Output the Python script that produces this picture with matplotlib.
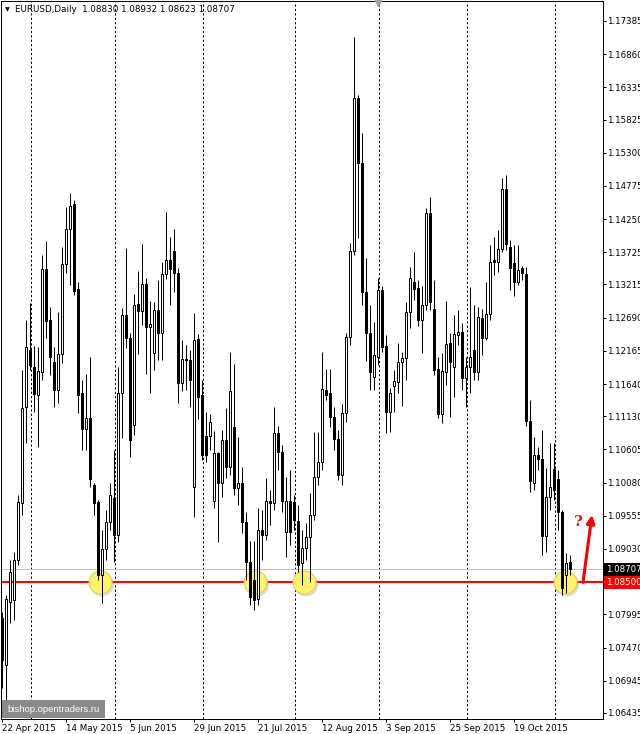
import matplotlib
matplotlib.use("Agg")
import matplotlib.pyplot as plt
import matplotlib.transforms as mtransforms
from matplotlib.patches import Rectangle
import pandas as pd

# EURUSD daily candles, 22 Apr 2015 .. 5 Nov 2015
first_day = "2015-04-22"
opens = [1.0794, 1.0719, 1.0819, 1.0822, 1.0886, 1.0976, 1.1128, 1.1218, 1.1191, 1.1146,
         1.1183, 1.1346, 1.1265, 1.1199, 1.1155, 1.1212, 1.1354, 1.1409, 1.1449, 1.1314,
         1.1149, 1.1093, 1.1110, 1.1004, 1.0977, 1.0862, 1.0903, 1.0946, 1.0983, 1.0925,
         1.1150, 1.1273, 1.1237, 1.1099, 1.1291, 1.1280, 1.1323, 1.1254, 1.1213, 1.1281,
         1.1245, 1.1338, 1.1360, 1.1375, 1.1340, 1.1166, 1.1204, 1.1202, 1.1001, 1.1235,
         1.1146, 1.1082, 1.1082, 1.0979, 1.1055, 1.1007, 1.1075, 1.1032, 1.1096, 1.0999,
         1.1007, 1.0946, 1.0882, 1.0854, 1.0824, 1.0933, 1.0925, 1.0979, 1.0976, 1.1086,
         1.1057, 1.0930, 1.0979, 1.0977, 1.0947, 1.0881, 1.0905, 1.0922, 1.0957, 1.1017,
         1.1041, 1.1155, 1.1149, 1.1112, 1.1077, 1.1020, 1.1118, 1.1239, 1.1375, 1.1617,
         1.1514, 1.1310, 1.1245, 1.1175, 1.1207, 1.1313, 1.1224, 1.1120, 1.1161, 1.1167,
         1.1199, 1.1205, 1.1278, 1.1326, 1.1316, 1.1265, 1.1289, 1.1435, 1.1283, 1.1188,
         1.1117, 1.1183, 1.1229, 1.1191, 1.1242, 1.1246, 1.1174, 1.1191, 1.1218, 1.1183,
         1.1269, 1.1237, 1.1275, 1.1360, 1.1357, 1.1378, 1.1473, 1.1381, 1.1356, 1.1326,
         1.1348, 1.1338, 1.1105, 1.1007, 1.1052, 1.1045, 1.0924, 1.0985, 1.1030, 1.1014,
         1.0962, 1.0862, 1.08830]
highs = [1.0803, 1.0830, 1.0886, 1.0898, 1.0988, 1.1186, 1.1265, 1.1292, 1.1224, 1.1223,
         1.1368, 1.1390, 1.1286, 1.1223, 1.1278, 1.1381, 1.1444, 1.1467, 1.1455, 1.1325,
         1.1171, 1.1180, 1.1207, 1.1007, 1.0981, 1.0933, 1.0965, 1.1007, 1.1060, 1.1191,
         1.1284, 1.1379, 1.1245, 1.1307, 1.1343, 1.1386, 1.1331, 1.1295, 1.1294, 1.1328,
         1.1357, 1.1436, 1.1397, 1.1409, 1.1348, 1.1234, 1.1226, 1.1218, 1.1276, 1.1243,
         1.1171, 1.1120, 1.1117, 1.1090, 1.1057, 1.1091, 1.1126, 1.1215, 1.1196, 1.1080,
         1.1032, 1.0962, 1.0915, 1.0915, 1.0968, 1.0965, 1.1015, 1.0996, 1.1128, 1.1097,
         1.1068, 1.1017, 1.1028, 1.0988, 1.0973, 1.0933, 1.0944, 1.0991, 1.1088, 1.1088,
         1.1215, 1.1188, 1.1188, 1.1128, 1.1091, 1.1132, 1.1245, 1.1387, 1.1713, 1.1621,
         1.1561, 1.1364, 1.1289, 1.1262, 1.1332, 1.1319, 1.1242, 1.1158, 1.1186, 1.1229,
         1.1215, 1.1294, 1.1349, 1.1373, 1.1328, 1.1319, 1.1443, 1.1460, 1.1328, 1.1207,
         1.1213, 1.1295, 1.1245, 1.1273, 1.1281, 1.1261, 1.1207, 1.1318, 1.1289, 1.1286,
         1.1283, 1.1325, 1.1384, 1.1397, 1.1408, 1.1490, 1.1495, 1.1392, 1.1384, 1.1384,
         1.1351, 1.1349, 1.1139, 1.1080, 1.1064, 1.1091, 1.1031, 1.1071, 1.1071, 1.1028,
         1.0965, 1.0897, 1.08932]
lows = [1.0683, 1.0664, 1.0786, 1.0791, 1.0878, 1.0957, 1.1071, 1.1186, 1.1120, 1.1064,
        1.1171, 1.1237, 1.1179, 1.1128, 1.1134, 1.1198, 1.1340, 1.1321, 1.1305, 1.1118,
        1.1060, 1.1060, 1.1001, 1.0957, 1.0854, 1.0818, 1.0886, 1.0933, 1.0882, 1.0914,
        1.1079, 1.1221, 1.1049, 1.1083, 1.1212, 1.1257, 1.1180, 1.1150, 1.1186, 1.1202,
        1.1202, 1.1330, 1.1289, 1.1310, 1.1134, 1.1153, 1.1155, 1.1128, 1.0954, 1.1109,
        1.1044, 1.1041, 1.1060, 1.0968, 1.0914, 1.0985, 1.1015, 1.1020, 1.0988, 1.0973,
        1.0928, 1.0854, 1.0814, 1.0806, 1.0814, 1.0886, 1.0917, 1.0941, 1.0965, 1.1028,
        1.0962, 1.0890, 1.0909, 1.0933, 1.0867, 1.0846, 1.0886, 1.0851, 1.0949, 1.1004,
        1.1028, 1.1139, 1.1096, 1.1060, 1.1012, 1.1004, 1.1104, 1.1226, 1.1368, 1.1395,
        1.1289, 1.1201, 1.1155, 1.1155, 1.1194, 1.1215, 1.1086, 1.1088, 1.1120, 1.1150,
        1.1129, 1.1171, 1.1253, 1.1297, 1.1256, 1.1213, 1.1281, 1.1281, 1.1179, 1.1110,
        1.1102, 1.1163, 1.1112, 1.1144, 1.1226, 1.1155, 1.1128, 1.1150, 1.1171, 1.1171,
        1.1210, 1.1234, 1.1265, 1.1337, 1.1342, 1.1373, 1.1376, 1.1313, 1.1303, 1.1321,
        1.1329, 1.1098, 1.0993, 1.0996, 1.1028, 1.0893, 1.0898, 1.0965, 1.0981, 1.0933,
        1.0830, 1.0833, 1.08623]
closes = [1.0727, 1.0824, 1.0867, 1.0886, 1.0977, 1.1126, 1.1223, 1.1194, 1.1148, 1.1184,
          1.1346, 1.1264, 1.1207, 1.1155, 1.1212, 1.1354, 1.1409, 1.1446, 1.1311, 1.1147,
          1.1093, 1.1110, 1.1014, 1.0976, 1.0862, 1.0903, 1.0946, 1.0988, 1.0925, 1.1150,
          1.1273, 1.1237, 1.1075, 1.1289, 1.1280, 1.1323, 1.1254, 1.1259, 1.1281, 1.1245,
          1.1338, 1.1360, 1.1346, 1.1339, 1.1166, 1.1204, 1.1202, 1.1170, 1.1234, 1.1144,
          1.1051, 1.1052, 1.1104, 1.1055, 1.1007, 1.1075, 1.1032, 1.1153, 1.0999, 1.1007,
          1.0946, 1.0882, 1.0827, 1.0822, 1.0933, 1.0925, 1.0979, 1.0976, 1.1086, 1.1057,
          1.0979, 1.0979, 1.0930, 1.0949, 1.0878, 1.0905, 1.0922, 1.0957, 1.1017, 1.1041,
          1.1156, 1.1147, 1.1112, 1.1077, 1.1020, 1.1118, 1.1239, 1.1375, 1.1617, 1.1514,
          1.1310, 1.1245, 1.1183, 1.1210, 1.1313, 1.1223, 1.1120, 1.1149, 1.1169, 1.1199,
          1.1205, 1.1278, 1.1332, 1.1314, 1.1265, 1.1289, 1.1435, 1.1294, 1.1186, 1.1117,
          1.1184, 1.1227, 1.1199, 1.1243, 1.1246, 1.1174, 1.1191, 1.1207, 1.1183, 1.1270,
          1.1237, 1.1275, 1.1357, 1.1357, 1.1378, 1.1473, 1.1386, 1.1348, 1.1326, 1.1345,
          1.1340, 1.1105, 1.1010, 1.1052, 1.1045, 1.0924, 1.0985, 1.1001, 1.0996, 1.0962,
          1.0841, 1.0881, 1.08707]

price_ticks = [1.17385, 1.16860, 1.16335, 1.15825, 1.15300, 1.14775, 1.14250, 1.13725,
               1.13215, 1.12690, 1.12165, 1.11640, 1.11130, 1.10605, 1.10080, 1.09555,
               1.09030, 1.07995, 1.07470, 1.06945, 1.06435]
support = 1.08500
circle_bars = [24.5, 63.25, 75.5, 140.75]
label_every = 16

n = len(closes)
dates = pd.bdate_range(first_day, periods=n)
xs = list(range(n))

fig = plt.figure(figsize=(6.4, 7.34), dpi=100)
ax = fig.add_axes([1 / 640, 15 / 734, 602 / 640, 718 / 734])
px = 0.72  # one pixel in points

# month separators
month_starts = [i for i in range(1, n) if dates[i].month != dates[i - 1].month]
for m in month_starts:
    ax.axvline(m + 0.15, color="black", lw=px, linestyle=(0, (2.2, 2.2)), zorder=1)

# levels
ax.axhline(closes[-1], color="#c0c0c0", lw=px, zorder=1)
ax.axhline(support, color="#ff0000", lw=1.5, zorder=2)

# highlight circles
shadow = mtransforms.offset_copy(ax.transData, fig=fig, x=2, y=-2, units="dots")
ax.scatter(circle_bars, [support] * len(circle_bars), s=300, color="#a8a8a8",
           alpha=0.4, edgecolors="none", transform=shadow, zorder=2.3)
ax.scatter(circle_bars, [support] * len(circle_bars), s=270, color="#fff36e",
           edgecolors="#e2d24e", linewidths=0.8, zorder=2.5)

# candles
ax.vlines(xs, lows, highs, color="black", lw=px, zorder=3)
heights = [abs(c - o) for o, c in zip(opens, closes)]
bottoms = [min(o, c) for o, c in zip(opens, closes)]
fills = ["white" if c >= o else "black" for o, c in zip(opens, closes)]
ax.bar(xs, heights, bottom=bottoms, width=0.5, color=fills, edgecolor="black",
       linewidth=px, zorder=4)

ax.set_xlim(-0.25, 150.25)
ax.set_ylim(1.0634, 1.1770)

for s in ax.spines.values():
    s.set_color("black")
    s.set_linewidth(px)

ax.yaxis.tick_right()
ax.set_yticks(price_ticks)
ax.set_yticklabels([f"{v:.5f}" for v in price_ticks])
label_idx = list(range(0, n, label_every))
ax.set_xticks(label_idx)
ax.set_xticklabels([f"{dates[i].day} {dates[i].strftime('%b %Y')}" for i in label_idx],
                   ha="left")
ax.tick_params(axis="y", direction="out", length=2.2, width=px, labelsize=6.2, pad=0.8)
ax.tick_params(axis="x", direction="out", length=2.5, width=px, labelsize=6.3, pad=1)

# price boxes on the scale
right = mtransforms.blended_transform_factory(ax.transAxes, ax.transData)
ax.text(1 + 3 / 602, closes[-1], f"{closes[-1]:.5f}", transform=right, ha="left",
        va="center", color="white", fontsize=6.2, clip_on=False,
        bbox=dict(boxstyle="square,pad=0.25", fc="black", ec="none"))
ax.text(1 + 3 / 602, support, f"{support:.5f}", transform=right, ha="left",
        va="center", color="white", fontsize=6.2, clip_on=False,
        bbox=dict(boxstyle="square,pad=0.25", fc="#ff0000", ec="none"))

# header
ax.text(4 / 602, 1 - 9 / 718, "\u25bc", transform=ax.transAxes, fontsize=4.5,
        va="center", ha="left")
ax.text(14 / 602, 1 - 9 / 718,
        f"EURUSD,Daily  {opens[-1]:.5f} {highs[-1]:.5f} {lows[-1]:.5f} {closes[-1]:.5f}",
        transform=ax.transAxes, fontsize=6.3, va="center", ha="left")

# chart shift marker
top = mtransforms.blended_transform_factory(ax.transData, ax.transAxes)
ax.plot([94], [1 - 2 / 718], marker="v", ms=4, color="#a0a0a0", transform=top,
        clip_on=False, zorder=6)

# arrow and question mark
ax.annotate("", xy=(147.5, 1.0957), xytext=(145.25, support),
            arrowprops=dict(arrowstyle="-|>", color="#ff0000", lw=2.2,
                            mutation_scale=12, shrinkA=0, shrinkB=0), zorder=5)
ax.text(144, 1.0946, "?", color="#e8141c", fontsize=11, fontweight="bold",
        family="DejaVu Serif", ha="center", va="center", zorder=5)

# watermark
fig.patches.append(Rectangle((2 / 640, 16 / 734), 103 / 640, 18 / 734,
                             transform=fig.transFigure, fc="#8a8a8a", ec="none",
                             zorder=5))
fig.text(54 / 640, 25 / 734, "bishop.opentraders.ru", color="white", fontsize=6.8,
         family="Liberation Sans", ha="center", va="center", zorder=6)

fig.savefig("out.png", dpi=100, facecolor="white")
